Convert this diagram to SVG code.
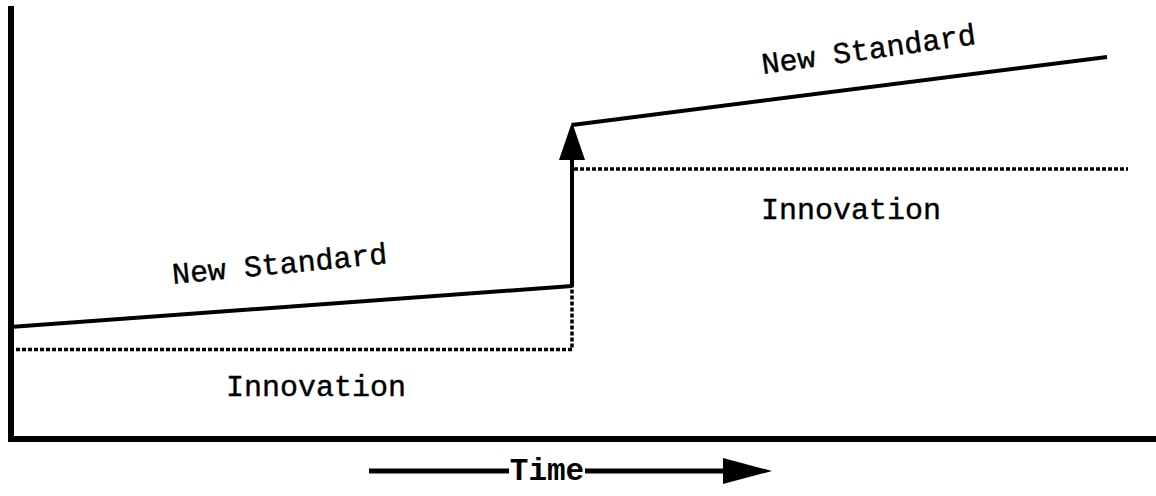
<svg xmlns="http://www.w3.org/2000/svg" width="1156" height="496" viewBox="0 0 1156 496">
  <defs>
    <style>
      .axis { stroke: #000; stroke-width: 6; fill: none; }
      .solid { stroke: #000; stroke-width: 4; fill: none; }
      .dotted { stroke: #000; stroke-width: 3.5; fill: none; stroke-dasharray: 4 2; }
      .label { font-family: "Liberation Mono", "Courier New", monospace; font-size: 30px; fill: #000; stroke: #000; stroke-width: 0.4; }
      .time { font-family: "Liberation Mono", "Courier New", monospace; font-size: 31px; font-weight: bold; fill: #000; }
    </style>
  </defs>
  <rect width="1156" height="496" fill="#fff"/>

  <!-- axes -->
  <g id="axes">
    <path class="axis" d="M11,6 V439 H1156"/>
  </g>

  <!-- standard and innovation levels -->
  <g id="connectors">
    <path class="solid" d="M10,327 L572,286"/>
    <path class="dotted" d="M10,349.5 H572 V286"/>
    <path class="solid" d="M572,286 V158"/>
    <polygon points="572,122 559,160 585,160" fill="#000"/>
    <path class="solid" d="M572,125 L1107,57"/>
    <path class="dotted" d="M574,169 H1128"/>
  </g>

  <g id="label-standard-1">
    <text class="label" transform="translate(173,284) rotate(-5.5)">New Standard</text>
  </g>
  <g id="label-innovation-1">
    <text class="label" x="316" y="396" text-anchor="middle">Innovation</text>
  </g>
  <g id="label-standard-2">
    <text class="label" transform="translate(763,74) rotate(-8)">New Standard</text>
  </g>
  <g id="label-innovation-2">
    <text class="label" x="851" y="219" text-anchor="middle">Innovation</text>
  </g>

  <!-- time arrow -->
  <g id="time-arrow">
    <path class="solid" d="M369,471 H509 M585,471 H725" style="stroke-width:5"/>
    <polygon points="772,471 723,458 723,484" fill="#000"/>
    <text class="time" x="547" y="480" text-anchor="middle">Time</text>
  </g>
</svg>
